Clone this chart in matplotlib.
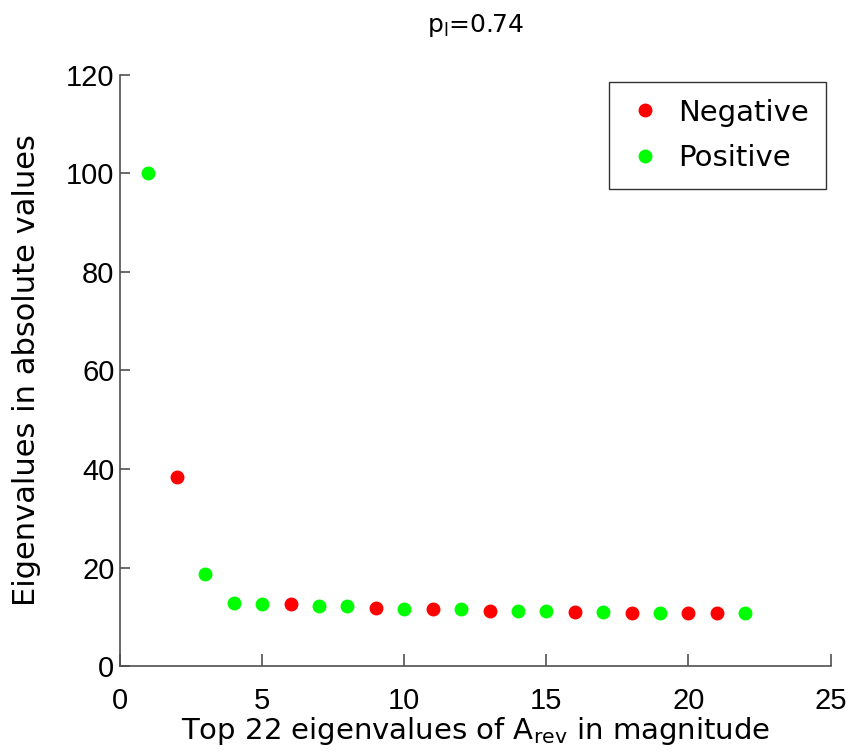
import matplotlib
matplotlib.use('Agg')
import matplotlib.pyplot as plt

plt.rcParams['font.family'] = ['Liberation Sans', 'DejaVu Sans']

# rank of each eigenvalue (1..22) and its absolute value
neg_rank = [2, 6, 9, 11, 13, 16, 18, 20, 21]
neg_vals = [38.3, 12.6, 11.7, 11.5, 11.1, 10.9, 10.7, 10.7, 10.7]
pos_rank = [1, 3, 4, 5, 7, 8, 10, 12, 14, 15, 17, 19, 22]
pos_vals = [100.1, 18.7, 12.8, 12.6, 12.1, 12.1, 11.5, 11.5, 11.1, 11.1, 10.9, 10.7, 10.7]

fig = plt.figure(figsize=(8.48, 7.56), dpi=100)
ax = fig.add_axes([0.1415, 0.119, 0.838, 0.782])

ax.plot(neg_rank, neg_vals, 'o', color=(1, 0, 0), ms=9, mec=(1, 0, 0), label='Negative')
ax.plot(pos_rank, pos_vals, 'o', color=(0, 1, 0), ms=9, mec=(0, 1, 0), label='Positive')

ax.set_xlim(0, 25)
ax.set_ylim(0, 120)
ax.set_xticks([0, 5, 10, 15, 20, 25])
ax.set_yticks([0, 20, 40, 60, 80, 100, 120])

for s in ['top', 'right']:
    ax.spines[s].set_visible(False)
for s in ['left', 'bottom']:
    ax.spines[s].set_color('#505050')
    ax.spines[s].set_linewidth(1.2)
ax.tick_params(axis='both', direction='in', colors='#505050', labelcolor='black',
               labelsize=21, width=1.2)
ax.tick_params(axis='x', length=9, pad=15)
ax.tick_params(axis='y', length=7, pad=4)

lab_font = ['DejaVu Sans']
ax.set_title(r'p$_\mathregular{l}$=0.74', fontsize=18, pad=31, family=lab_font)
ax.set_xlabel(r'Top 22 eigenvalues of A$_\mathregular{rev}$ in magnitude', fontsize=21,
              labelpad=0, family=lab_font)
ax.set_ylabel('Eigenvalues in absolute values', fontsize=22, labelpad=18, family=lab_font)

leg = ax.legend(loc='upper right', prop={'family': 'DejaVu Sans', 'size': 21},
                frameon=True, fancybox=False, handletextpad=0.5, borderpad=0.57,
                labelspacing=0.6, handlelength=1.3, borderaxespad=0,
                bbox_to_anchor=(0.9935, 0.988))
leg.get_frame().set_edgecolor('black')
leg.get_frame().set_linewidth(1.0)

fig.savefig('out.png', dpi=100)
